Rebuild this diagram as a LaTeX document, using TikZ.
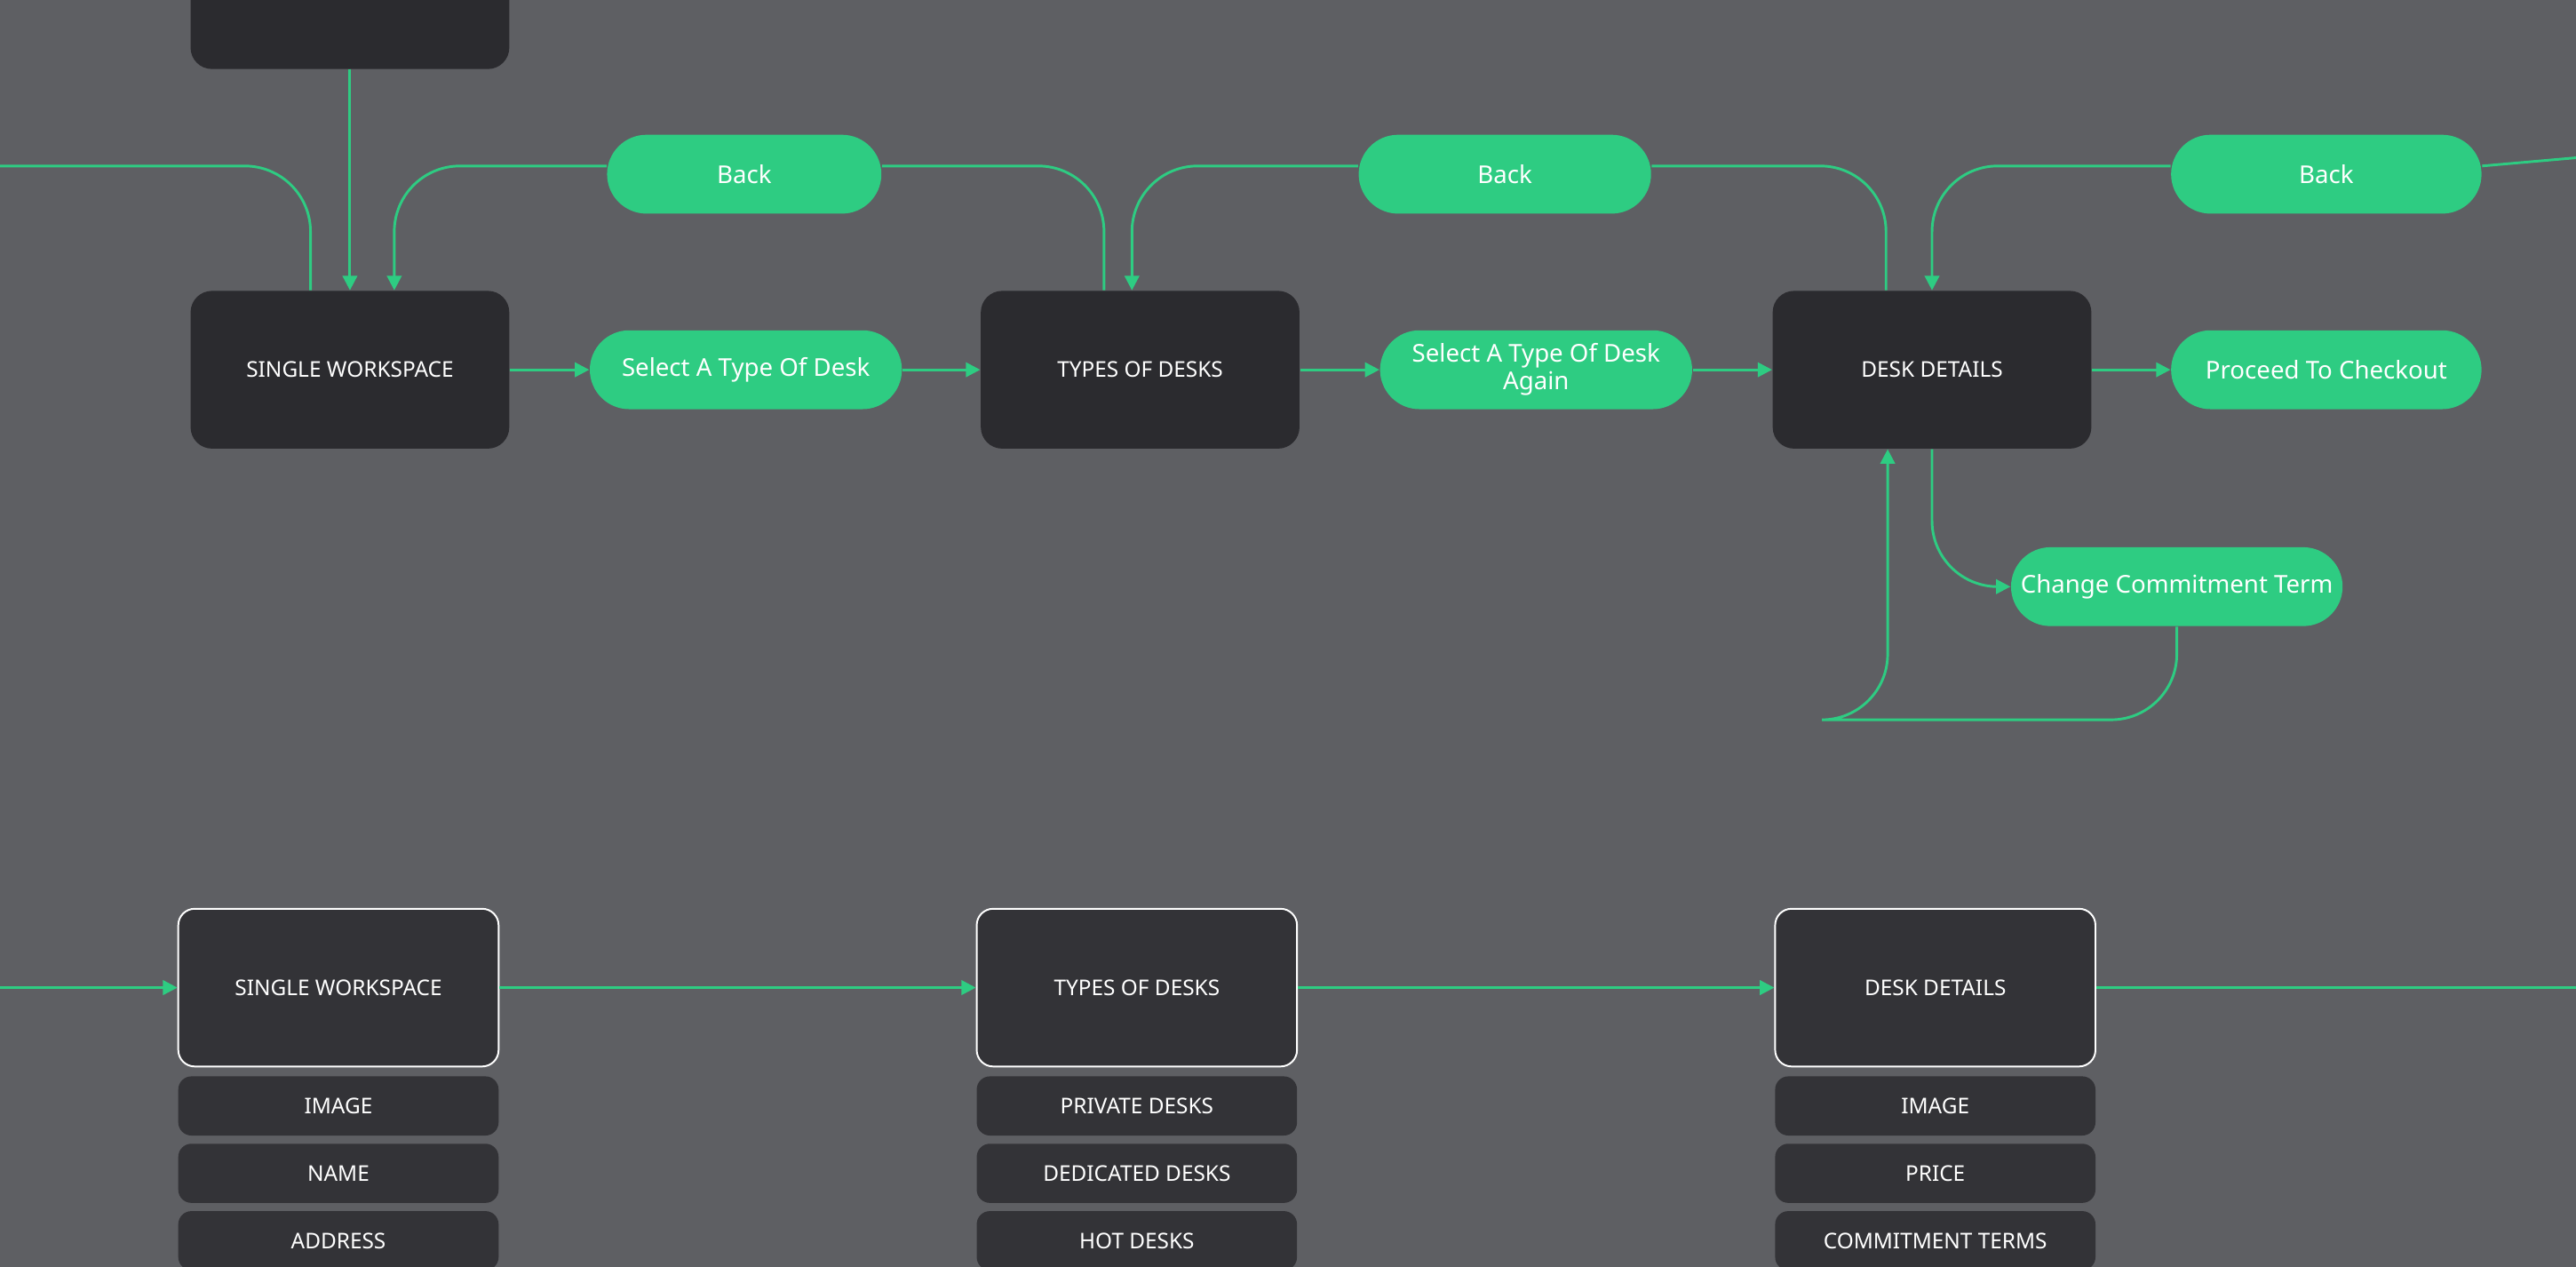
\documentclass[tikz,border=0pt]{standalone}
\usepackage{fontspec}
\setmainfont{Noto Sans}
\usetikzlibrary{arrows.meta}
\definecolor{bg}{HTML}{5E5F63}
\definecolor{dark}{HTML}{2B2B2F}
\definecolor{darkb}{HTML}{333337}
\definecolor{grn}{HTML}{2ECC82}
\begin{document}
\begin{tikzpicture}[x=0.02cm,y=-0.02cm,
  box/.style={fill=dark,rounded corners=0.26cm,minimum width=3.88cm,minimum height=1.92cm,text=white,font=\fontsize{7.5}{9}\selectfont},
  wbox/.style={fill=darkb,draw=white,line width=0.6pt,rounded corners=0.2cm,minimum width=3.9cm,minimum height=1.92cm,text=white,font=\fontsize{7.5}{9}\selectfont},
  item/.style={fill=darkb,rounded corners=0.16cm,minimum width=3.9cm,minimum height=0.72cm,text=white,font=\fontsize{7.5}{9}\selectfont},
  pill/.style={fill=grn,rounded corners=0.48cm,minimum height=0.96cm,text=white,align=center,font=\fontsize{8.5}{9.5}\selectfont},
  ln/.style={draw=grn,line width=0.9pt,rounded corners=0.8cm},
  ar/.style={ln,-{Triangle[length=5pt,width=5pt]}}]
\fill[bg] (0,0) rectangle (1568,771);
\useasboundingbox (0,0) rectangle (1568,771);
% top row
\fill[dark,rounded corners=0.26cm] (116,-30) rectangle (310,42);
\coordinate (TOP) at (213,42);
\node[box] (SW1) at (213,225) {SINGLE WORKSPACE};
\node[box] (TD1) at (694,225) {TYPES OF DESKS};
\node[box] (DD1) at (1176,225) {DESK DETAILS};
\node[pill,minimum width=3.34cm] (B1) at (453,106) {Back};
\node[pill,minimum width=3.56cm] (B2) at (916,106) {Back};
\node[pill,minimum width=3.78cm] (B3) at (1416,106) {Back};
\node[pill,minimum width=3.8cm] (S1) at (454,225) {Select A Type Of Desk};
\node[pill,minimum width=3.8cm] (S2) at (935,225) {Select A Type Of Desk\\Again};
\node[pill,minimum width=3.78cm] (P) at (1416,225) {Proceed To Checkout};
\node[pill,minimum width=3.8cm] (C) at (1325,357) {Change Commitment Term};
\coordinate (L1) at (0,101);
\coordinate (R1) at (1568,101);
\draw[ln] (L1) -| ([xshift=-0.48cm]SW1.north);
\draw[ar] (TOP) -- (SW1.north);
\draw[ar] ([yshift=0.1cm]B1.west) -| ([xshift=0.54cm]SW1.north);
\draw[ln] ([yshift=0.1cm]B1.east) -| ([xshift=-0.44cm]TD1.north);
\draw[ar] ([yshift=0.1cm]B2.west) -| ([xshift=-0.1cm]TD1.north);
\draw[ln] ([yshift=0.1cm]B2.east) -| ([xshift=-0.56cm]DD1.north);
\draw[ar] ([yshift=0.1cm]B3.west) -| (DD1.north);
\draw[ln] ([yshift=0.1cm]B3.east) -- ([yshift=0.1cm]R1);
\draw[ar] (SW1) -- (S1);
\draw[ar] (S1) -- (TD1);
\draw[ar] (TD1) -- (S2);
\draw[ar] (S2) -- (DD1);
\draw[ar] (DD1) -- (P);
\draw[ar] (DD1.south) |- (C.west);
\coordinate (CL) at (1149,438);
\draw[ar] (C.south) |- (CL) -| ([xshift=-0.54cm]DD1.south);
% bottom row
\node[wbox] (SW2) at (206,601) {SINGLE WORKSPACE};
\node[wbox] (TD2) at (692,601) {TYPES OF DESKS};
\node[wbox] (DD2) at (1178,601) {DESK DETAILS};
\coordinate (L2) at (0,601);
\coordinate (R2) at (1568,601);
\draw[ar] (L2) -- (SW2);
\draw[ar] (SW2) -- (TD2);
\draw[ar] (TD2) -- (DD2);
\draw[ln] (DD2) -- (R2);
\node[item] (a1) at (206,673) {IMAGE};
\node[item] (a2) at (206,714) {NAME};
\node[item] (a3) at (206,755) {ADDRESS};
\node[item] (b1) at (692,673) {PRIVATE DESKS};
\node[item] (b2) at (692,714) {DEDICATED DESKS};
\node[item] (b3) at (692,755) {HOT DESKS};
\node[item] (c1) at (1178,673) {IMAGE};
\node[item] (c2) at (1178,714) {PRICE};
\node[item] (c3) at (1178,755) {COMMITMENT TERMS};
\end{tikzpicture}
\end{document}
